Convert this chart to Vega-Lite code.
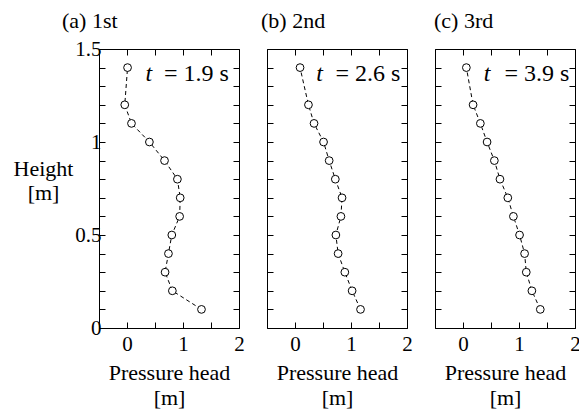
{
  "$schema": "https://vega.github.io/schema/vega-lite/v6.json",
  "background": "white",
  "padding": {"left": 12, "top": 9, "right": 5, "bottom": 5},
  "config": {
    "font": "Liberation Serif",
    "view": {"stroke": "black", "strokeWidth": 1},
    "axis": {"domain": false, "grid": false, "labelFont": "Liberation Serif", "labelFontSize": 21, "labelColor": "black", "titleFont": "Liberation Serif", "titleFontSize": 22, "titleFontWeight": "normal", "titleColor": "black", "tickColor": "black", "tickSize": -6, "labelOverlap": false, "labelFlush": false, "labelBound": false},
    "text": {"font": "Liberation Serif", "fontWeight": "normal", "color": "black"},
    "title": {"font": "Liberation Serif", "fontSize": 22, "fontWeight": "normal", "color": "black", "anchor": "start", "frame": "group"}
  },
  "datasets": {
    "pts": [
      {"panel": "a", "h": 1.4, "p": 0.01}, {"panel": "a", "h": 1.2, "p": -0.04}, {"panel": "a", "h": 1.1, "p": 0.08}, {"panel": "a", "h": 1.0, "p": 0.40}, {"panel": "a", "h": 0.9, "p": 0.67}, {"panel": "a", "h": 0.8, "p": 0.90}, {"panel": "a", "h": 0.7, "p": 0.95}, {"panel": "a", "h": 0.6, "p": 0.94}, {"panel": "a", "h": 0.5, "p": 0.80}, {"panel": "a", "h": 0.4, "p": 0.74}, {"panel": "a", "h": 0.3, "p": 0.68}, {"panel": "a", "h": 0.2, "p": 0.81}, {"panel": "a", "h": 0.1, "p": 1.33},
      {"panel": "b", "h": 1.4, "p": 0.09}, {"panel": "b", "h": 1.2, "p": 0.24}, {"panel": "b", "h": 1.1, "p": 0.34}, {"panel": "b", "h": 1.0, "p": 0.51}, {"panel": "b", "h": 0.9, "p": 0.61}, {"panel": "b", "h": 0.8, "p": 0.72}, {"panel": "b", "h": 0.7, "p": 0.84}, {"panel": "b", "h": 0.6, "p": 0.82}, {"panel": "b", "h": 0.5, "p": 0.73}, {"panel": "b", "h": 0.4, "p": 0.77}, {"panel": "b", "h": 0.3, "p": 0.89}, {"panel": "b", "h": 0.2, "p": 1.02}, {"panel": "b", "h": 0.1, "p": 1.17},
      {"panel": "c", "h": 1.4, "p": 0.06}, {"panel": "c", "h": 1.2, "p": 0.18}, {"panel": "c", "h": 1.1, "p": 0.31}, {"panel": "c", "h": 1.0, "p": 0.43}, {"panel": "c", "h": 0.9, "p": 0.56}, {"panel": "c", "h": 0.8, "p": 0.66}, {"panel": "c", "h": 0.7, "p": 0.80}, {"panel": "c", "h": 0.6, "p": 0.90}, {"panel": "c", "h": 0.5, "p": 1.01}, {"panel": "c", "h": 0.4, "p": 1.10}, {"panel": "c", "h": 0.3, "p": 1.13}, {"panel": "c", "h": 0.2, "p": 1.23}, {"panel": "c", "h": 0.1, "p": 1.38}
    ]
  },
  "spacing": 28,
  "bounds": "flush",
  "hconcat": [
    {
      "width": 140, "height": 279,
      "title": {"text": "(a) 1st", "dx": -37, "offset": -12, "baseline": "alphabetic"},
      "data": {"name": "pts"},
      "transform": [{"filter": "datum.panel == 'a'"}],
      "resolve": {"axis": {"x": "independent", "y": "independent"}},
      "layer": [
        {"mark": {"type": "line", "stroke": "black", "strokeWidth": 1, "strokeDash": [4, 3]},
         "encoding": {
           "x": {"field": "p", "type": "quantitative", "scale": {"domain": [-0.5, 2], "nice": false, "zero": false}, "axis": {"orient": "bottom", "values": [-0.5, 0, 0.5, 1, 1.5, 2], "format": "~g", "labelExpr": "indexof(['0','1','2'], datum.label) >= 0 ? datum.label : ''", "title": ["Pressure head", "[m]"], "labelPadding": 11, "titlePadding": 8, "titleLineHeight": 25}},
           "y": {"field": "h", "type": "quantitative", "scale": {"domain": [0, 1.5], "nice": false}, "axis": {"orient": "left", "values": [0, 0.1, 0.2, 0.3, 0.4, 0.5, 0.6, 0.7, 0.8, 0.9, 1, 1.1, 1.2, 1.3, 1.4, 1.5], "format": "~g", "labelExpr": "indexof(['0','0.5','1','1.5'], datum.label) >= 0 ? datum.label : ''", "labelPadding": 4, "title": ["Height", "[m]"], "titleAngle": 0, "titleAlign": "center", "titleBaseline": "middle", "titleX": -56, "titleY": 119, "titleLineHeight": 24}},
           "order": {"field": "h", "type": "quantitative"}
         }},
        {"mark": {"type": "point", "shape": "circle", "filled": true, "fill": "white", "stroke": "black", "strokeWidth": 1, "size": 60, "opacity": 1},
         "encoding": {
           "x": {"field": "p", "type": "quantitative", "axis": {"orient": "top", "values": [-0.5, 0, 0.5, 1, 1.5, 2], "labels": false, "title": null, "minExtent": 0, "maxExtent": 0}},
           "y": {"field": "h", "type": "quantitative", "axis": {"orient": "right", "values": [0, 0.1, 0.2, 0.3, 0.4, 0.5, 0.6, 0.7, 0.8, 0.9, 1, 1.1, 1.2, 1.3, 1.4, 1.5], "labels": false, "title": null, "minExtent": 0, "maxExtent": 0}}
         }},
        {"data": {"values": [{"t": "t", "rest": "= 1.9 s", "xt": 0.33, "xr": 1.82, "y": 1.33}]},
         "mark": {"type": "text", "fontStyle": "italic", "fontWeight": "normal", "fontSize": 24, "align": "left", "baseline": "alphabetic", "font": "Liberation Serif"},
         "encoding": {"text": {"field": "t"}, "x": {"field": "xt", "type": "quantitative", "axis": null}, "y": {"field": "y", "type": "quantitative", "axis": null}}},
        {"data": {"values": [{"t": "t", "rest": "= 1.9 s", "xt": 0.33, "xr": 1.82, "y": 1.33}]},
         "mark": {"type": "text", "fontWeight": "normal", "fontSize": 24, "align": "right", "baseline": "alphabetic", "font": "Liberation Serif"},
         "encoding": {"text": {"field": "rest"}, "x": {"field": "xr", "type": "quantitative", "axis": null}, "y": {"field": "y", "type": "quantitative", "axis": null}}}
      ]
    },
    {
      "width": 140, "height": 279,
      "title": {"text": "(b) 2nd", "dx": -6, "offset": -1, "baseline": "alphabetic"},
      "data": {"name": "pts"},
      "transform": [{"filter": "datum.panel == 'b'"}],
      "resolve": {"axis": {"x": "independent", "y": "independent"}},
      "layer": [
        {"mark": {"type": "line", "stroke": "black", "strokeWidth": 1, "strokeDash": [4, 3]},
         "encoding": {
           "x": {"field": "p", "type": "quantitative", "scale": {"domain": [-0.5, 2], "nice": false, "zero": false}, "axis": {"orient": "bottom", "values": [-0.5, 0, 0.5, 1, 1.5, 2], "format": "~g", "labelExpr": "indexof(['0','1','2'], datum.label) >= 0 ? datum.label : ''", "title": ["Pressure head", "[m]"], "labelPadding": 11, "titlePadding": 8, "titleLineHeight": 25}},
           "y": {"field": "h", "type": "quantitative", "scale": {"domain": [0, 1.5], "nice": false}, "axis": {"orient": "left", "values": [0, 0.1, 0.2, 0.3, 0.4, 0.5, 0.6, 0.7, 0.8, 0.9, 1, 1.1, 1.2, 1.3, 1.4, 1.5], "labels": false, "title": null, "minExtent": 0, "maxExtent": 0}},
           "order": {"field": "h", "type": "quantitative"}
         }},
        {"mark": {"type": "point", "shape": "circle", "filled": true, "fill": "white", "stroke": "black", "strokeWidth": 1, "size": 60, "opacity": 1},
         "encoding": {
           "x": {"field": "p", "type": "quantitative", "axis": {"orient": "top", "values": [-0.5, 0, 0.5, 1, 1.5, 2], "labels": false, "title": null, "minExtent": 0, "maxExtent": 0}},
           "y": {"field": "h", "type": "quantitative", "axis": {"orient": "right", "values": [0, 0.1, 0.2, 0.3, 0.4, 0.5, 0.6, 0.7, 0.8, 0.9, 1, 1.1, 1.2, 1.3, 1.4, 1.5], "labels": false, "title": null, "minExtent": 0, "maxExtent": 0}}
         }},
        {"data": {"values": [{"t": "t", "rest": "= 2.6 s", "xt": 0.38, "xr": 1.88, "y": 1.33}]},
         "mark": {"type": "text", "fontStyle": "italic", "fontWeight": "normal", "fontSize": 24, "align": "left", "baseline": "alphabetic", "font": "Liberation Serif"},
         "encoding": {"text": {"field": "t"}, "x": {"field": "xt", "type": "quantitative", "axis": null}, "y": {"field": "y", "type": "quantitative", "axis": null}}},
        {"data": {"values": [{"t": "t", "rest": "= 2.6 s", "xt": 0.38, "xr": 1.88, "y": 1.33}]},
         "mark": {"type": "text", "fontWeight": "normal", "fontSize": 24, "align": "right", "baseline": "alphabetic", "font": "Liberation Serif"},
         "encoding": {"text": {"field": "rest"}, "x": {"field": "xr", "type": "quantitative", "axis": null}, "y": {"field": "y", "type": "quantitative", "axis": null}}}
      ]
    },
    {
      "width": 140, "height": 279,
      "title": {"text": "(c) 3rd", "dx": -1, "offset": -1, "baseline": "alphabetic"},
      "data": {"name": "pts"},
      "transform": [{"filter": "datum.panel == 'c'"}],
      "resolve": {"axis": {"x": "independent", "y": "independent"}},
      "layer": [
        {"mark": {"type": "line", "stroke": "black", "strokeWidth": 1, "strokeDash": [4, 3]},
         "encoding": {
           "x": {"field": "p", "type": "quantitative", "scale": {"domain": [-0.5, 2], "nice": false, "zero": false}, "axis": {"orient": "bottom", "values": [-0.5, 0, 0.5, 1, 1.5, 2], "format": "~g", "labelExpr": "indexof(['0','1','2'], datum.label) >= 0 ? datum.label : ''", "title": ["Pressure head", "[m]"], "labelPadding": 11, "titlePadding": 8, "titleLineHeight": 25}},
           "y": {"field": "h", "type": "quantitative", "scale": {"domain": [0, 1.5], "nice": false}, "axis": {"orient": "left", "values": [0, 0.1, 0.2, 0.3, 0.4, 0.5, 0.6, 0.7, 0.8, 0.9, 1, 1.1, 1.2, 1.3, 1.4, 1.5], "labels": false, "title": null, "minExtent": 0, "maxExtent": 0}},
           "order": {"field": "h", "type": "quantitative"}
         }},
        {"mark": {"type": "point", "shape": "circle", "filled": true, "fill": "white", "stroke": "black", "strokeWidth": 1, "size": 60, "opacity": 1},
         "encoding": {
           "x": {"field": "p", "type": "quantitative", "axis": {"orient": "top", "values": [-0.5, 0, 0.5, 1, 1.5, 2], "labels": false, "title": null, "minExtent": 0, "maxExtent": 0}},
           "y": {"field": "h", "type": "quantitative", "axis": {"orient": "right", "values": [0, 0.1, 0.2, 0.3, 0.4, 0.5, 0.6, 0.7, 0.8, 0.9, 1, 1.1, 1.2, 1.3, 1.4, 1.5], "labels": false, "title": null, "minExtent": 0, "maxExtent": 0}}
         }},
        {"data": {"values": [{"t": "t", "rest": "= 3.9 s", "xt": 0.37, "xr": 1.9, "y": 1.33}]},
         "mark": {"type": "text", "fontStyle": "italic", "fontWeight": "normal", "fontSize": 24, "align": "left", "baseline": "alphabetic", "font": "Liberation Serif"},
         "encoding": {"text": {"field": "t"}, "x": {"field": "xt", "type": "quantitative", "axis": null}, "y": {"field": "y", "type": "quantitative", "axis": null}}},
        {"data": {"values": [{"t": "t", "rest": "= 3.9 s", "xt": 0.37, "xr": 1.9, "y": 1.33}]},
         "mark": {"type": "text", "fontWeight": "normal", "fontSize": 24, "align": "right", "baseline": "alphabetic", "font": "Liberation Serif"},
         "encoding": {"text": {"field": "rest"}, "x": {"field": "xr", "type": "quantitative", "axis": null}, "y": {"field": "y", "type": "quantitative", "axis": null}}}
      ]
    }
  ]
}
